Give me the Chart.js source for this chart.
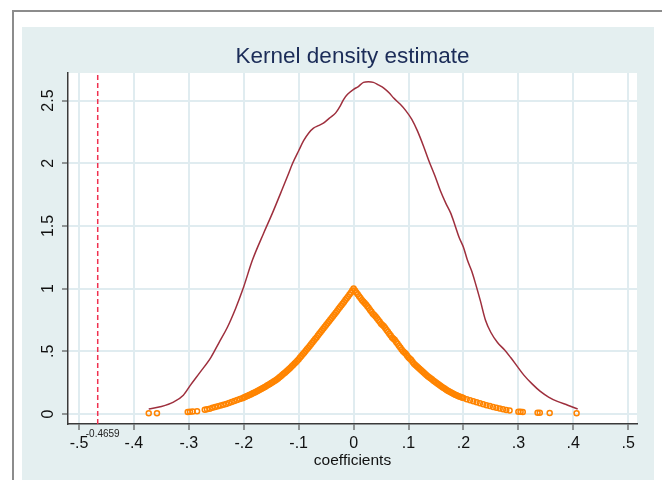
<!DOCTYPE html>
<html>
<head>
<meta charset="utf-8">
<script src="https://cdn.jsdelivr.net/npm/chart.js@4.4.1/dist/chart.umd.min.js"></script>
<style>
  body { margin: 0; background: #fff; overflow: hidden; }
  canvas { display: block; }
</style>
</head>
<body>
<canvas id="kdens" width="662" height="480"></canvas>
<script>
// --- data ---
// kernel density curve (red line)
const densX = [-0.373, -0.35, -0.328, -0.31, -0.297, -0.28, -0.26, -0.245, -0.23, -0.215, -0.202, -0.184,
  -0.164, -0.148, -0.133, -0.12, -0.111, -0.1, -0.091, -0.082, -0.073, -0.064, -0.055, -0.044, -0.033,
  -0.024, -0.018, -0.011, 0, 0.008, 0.018, 0.027, 0.036, 0.045, 0.055, 0.065, 0.073, 0.085, 0.095, 0.106,
  0.116, 0.127, 0.137, 0.148, 0.158, 0.168, 0.177, 0.185, 0.192, 0.2, 0.207, 0.215, 0.222, 0.231, 0.24,
  0.25, 0.262, 0.275, 0.286, 0.298, 0.31, 0.325, 0.34, 0.355, 0.371, 0.39, 0.408];
const densY = [0.04, 0.06, 0.095, 0.15, 0.23, 0.33, 0.45, 0.57, 0.69, 0.84, 0.99, 1.23,
  1.44, 1.6, 1.76, 1.9, 2.0, 2.1, 2.18, 2.24, 2.28, 2.3, 2.32, 2.36, 2.4,
  2.46, 2.51, 2.55, 2.59, 2.61, 2.645, 2.65, 2.645, 2.625, 2.6, 2.56, 2.52, 2.47, 2.42, 2.35,
  2.26, 2.14, 2.02, 1.9, 1.78, 1.68, 1.6, 1.5, 1.41, 1.33, 1.23, 1.14, 1.04, 0.9, 0.75,
  0.65, 0.57, 0.51, 0.45, 0.38, 0.31, 0.24, 0.18, 0.135, 0.1, 0.07, 0.04];

// kernel weights (orange hollow circles): left tail, dense centre band, right tail
const weightX = [
  -0.373, -0.358, -0.302, -0.298, -0.293, -0.285, -0.271, -0.267, -0.262, -0.257, -0.252,
  -0.247, -0.242, -0.237, -0.232, -0.227, -0.222, -0.217, -0.212, -0.207, -0.2025,
  -0.2, -0.1975, -0.195, -0.1925, -0.19, -0.1875, -0.185, -0.1825, -0.18, -0.1775, -0.175, -0.1725,
  -0.17, -0.1675, -0.165, -0.1625, -0.16, -0.1575, -0.155, -0.1525, -0.15, -0.1475, -0.145, -0.1425,
  -0.14, -0.1375, -0.135, -0.1325, -0.13, -0.1275, -0.125, -0.1225, -0.12, -0.1175, -0.115, -0.1125,
  -0.11, -0.1075, -0.105, -0.1025, -0.1, -0.0975, -0.095, -0.0925, -0.09, -0.0875, -0.085, -0.0825,
  -0.08, -0.0775, -0.075, -0.0725, -0.07, -0.0675, -0.065, -0.0625, -0.06, -0.0575, -0.055, -0.0525,
  -0.05, -0.0475, -0.045, -0.0425, -0.04, -0.0375, -0.035, -0.0325, -0.03, -0.0275, -0.025, -0.0225,
  -0.02, -0.0175, -0.015, -0.0125, -0.01, -0.0075, -0.005, -0.0025, 0,
  0.0025, 0.005, 0.0075, 0.01, 0.0125, 0.015, 0.0175, 0.02, 0.0225, 0.025, 0.0275, 0.03,
  0.0325, 0.035, 0.0375, 0.04, 0.0425, 0.045, 0.0475, 0.05, 0.0525, 0.055, 0.0575, 0.06,
  0.0625, 0.065, 0.0675, 0.07, 0.0725, 0.075, 0.0775, 0.08, 0.0825, 0.085, 0.0875, 0.09,
  0.0925, 0.095, 0.0975, 0.1, 0.1025, 0.105, 0.1075, 0.11, 0.1125, 0.115, 0.1175, 0.12,
  0.1225, 0.125, 0.1275, 0.13, 0.1325, 0.135, 0.1375, 0.14, 0.1425, 0.145, 0.1475, 0.15,
  0.1525, 0.155, 0.1575, 0.16, 0.1625, 0.165, 0.1675, 0.17, 0.1725, 0.175, 0.1775, 0.18,
  0.1825, 0.185, 0.1875, 0.19, 0.1925, 0.195, 0.1975, 0.2,
  0.206, 0.212, 0.218, 0.224, 0.23, 0.236, 0.242, 0.248, 0.254, 0.26, 0.266, 0.272, 0.278, 0.284,
  0.3, 0.304, 0.308, 0.335, 0.339, 0.357, 0.406];
const weightY = [
  0.005, 0.006, 0.016, 0.017, 0.019, 0.022, 0.033, 0.037, 0.042, 0.05, 0.056,
  0.062, 0.068, 0.074, 0.08, 0.087, 0.095, 0.103, 0.111, 0.119, 0.126,
  0.131, 0.136, 0.141, 0.146, 0.151, 0.156, 0.161, 0.167, 0.172, 0.178, 0.184, 0.189,
  0.195, 0.201, 0.208, 0.214, 0.22, 0.227, 0.233, 0.24, 0.247, 0.254, 0.261, 0.268,
  0.275, 0.283, 0.292, 0.301, 0.31, 0.32, 0.329, 0.339, 0.349, 0.359, 0.369, 0.38,
  0.391, 0.402, 0.413, 0.425, 0.437, 0.45, 0.463, 0.476, 0.489, 0.502, 0.516, 0.529,
  0.543, 0.556, 0.57, 0.584, 0.598, 0.611, 0.625, 0.639, 0.653, 0.667, 0.681, 0.695,
  0.709, 0.723, 0.737, 0.751, 0.765, 0.78, 0.794, 0.808, 0.822, 0.837, 0.851, 0.865,
  0.88, 0.894, 0.909, 0.923, 0.938, 0.953, 0.968, 0.984, 1.0,
  0.985, 0.97, 0.955, 0.94, 0.925, 0.91, 0.898, 0.886, 0.873, 0.86, 0.845, 0.83,
  0.815, 0.8, 0.79, 0.778, 0.764, 0.75, 0.735, 0.72, 0.71, 0.7, 0.685, 0.67,
  0.655, 0.64, 0.625, 0.61, 0.6, 0.59, 0.575, 0.56, 0.545, 0.53, 0.515, 0.5,
  0.49, 0.48, 0.465, 0.45, 0.44, 0.43, 0.415, 0.4, 0.39, 0.38, 0.37, 0.36,
  0.35, 0.34, 0.33, 0.32, 0.31, 0.3, 0.292, 0.285, 0.276, 0.268, 0.26, 0.252,
  0.244, 0.236, 0.228, 0.22, 0.212, 0.205, 0.197, 0.19, 0.183, 0.177, 0.171, 0.165,
  0.16, 0.154, 0.149, 0.144, 0.14, 0.135, 0.131, 0.127,
  0.118, 0.11, 0.102, 0.094, 0.086, 0.078, 0.07, 0.063, 0.056, 0.049, 0.043, 0.037, 0.032, 0.027,
  0.018, 0.017, 0.016, 0.01, 0.01, 0.008, 0.005];

// reference line
const refLine = -0.4659;
const refLabel = '-0.4659';

// axes
const xMin = -0.52, xMax = 0.516;
const yMin = -0.08, yMax = 2.72;
const xTicks = [-0.5, -0.4, -0.3, -0.2, -0.1, 0, 0.1, 0.2, 0.3, 0.4, 0.5];
const xTickLabels = ['-.5', '-.4', '-.3', '-.2', '-.1', '0', '.1', '.2', '.3', '.4', '.5'];
const yTicks = [0, 0.5, 1, 1.5, 2, 2.5];
const yTickLabels = ['0', '.5', '1', '1.5', '2', '2.5'];

const chartTitle = 'Kernel density estimate';
const xTitle = 'coefficients';

// --- drawing ---
Chart.defaults.font.family = "'Liberation Sans', Arial, sans-serif";

const gridColor = '#e0ecf0';
const axisColor = '#3a3a3a';

// panel background, outer frame, white plot region
const backdrop = {
  id: 'backdrop',
  beforeDraw(chart) {
    const c = chart.ctx;
    const a = chart.chartArea;
    c.save();
    c.fillStyle = '#e4eff0';
    c.fillRect(22, 27, 632, 460);
    c.fillStyle = '#8c8c8c';
    c.fillRect(12, 10, 2, 470);   // left frame edge
    c.fillRect(12, 10, 650, 2);   // top frame edge
    c.fillStyle = '#ffffff';
    c.fillRect(a.left, a.top, a.right - a.left, a.bottom - a.top);
    c.restore();
  }
};

// small text under the axis for the reference line
const refText = {
  id: 'refText',
  afterDraw(chart) {
    const c = chart.ctx;
    const px = chart.scales.x.getPixelForValue(refLine);
    c.save();
    c.font = "10px 'Liberation Sans', Arial, sans-serif";
    c.fillStyle = '#222';
    c.textAlign = 'center';
    c.textBaseline = 'middle';
    c.fillText(refLabel, px + 5, chart.chartArea.bottom + 10);
    c.restore();
  }
};

new Chart(document.getElementById('kdens').getContext('2d'), {
  type: 'scatter',
  data: {
    datasets: [
      {
        label: 'density',
        data: densX.map((x, i) => ({ x: x, y: densY[i] })),
        showLine: true,
        borderColor: '#9e2f3d',
        borderWidth: 1.5,
        pointRadius: 0,
        cubicInterpolationMode: 'monotone',
        fill: false
      },
      {
        label: 'weights',
        data: weightX.map((x, i) => ({ x: x, y: weightY[i] })),
        borderColor: '#ff8400',
        backgroundColor: 'rgba(255,255,255,0)',
        borderWidth: 1.5,
        pointRadius: 2.5
      },
      {
        label: 'xline',
        data: [{ x: refLine, y: yMin }, { x: refLine, y: yMax }],
        showLine: true,
        borderColor: '#f0304f',
        borderWidth: 1.5,
        borderDash: [5, 3],
        pointRadius: 0
      }
    ]
  },
  options: {
    responsive: false,
    animation: false,
    devicePixelRatio: 1,
    layout: { padding: { left: 22, right: 25, top: 36, bottom: 0 } },
    plugins: {
      legend: { display: false },
      tooltip: { enabled: false },
      title: {
        display: true,
        text: chartTitle,
        fullSize: false,
        color: '#1b2c58',
        font: { size: 22.5, weight: 'normal' },
        padding: { top: 7, bottom: 3 }
      }
    },
    scales: {
      x: {
        type: 'linear',
        min: xMin,
        max: xMax,
        afterBuildTicks: s => { s.ticks = xTicks.map(v => ({ value: v })); },
        afterFit: s => { s.height = 56; },
        ticks: {
          callback: (v, i) => xTickLabels[i],
          font: { size: 16 },
          color: '#111',
          padding: 4,
          autoSkip: false,
          maxRotation: 0
        },
        grid: { color: gridColor, lineWidth: 2, tickLength: 6, tickColor: axisColor, tickWidth: 1 },
        border: { color: axisColor, width: 1.5 },
        title: {
          display: true,
          text: xTitle,
          color: '#111',
          font: { size: 15.5 },
          padding: { top: 0, bottom: 10 }
        }
      },
      y: {
        type: 'linear',
        min: yMin,
        max: yMax,
        afterBuildTicks: s => { s.ticks = yTicks.map(v => ({ value: v })); },
        afterFit: s => { s.width = 46; },
        ticks: {
          callback: (v, i) => yTickLabels[i],
          font: { size: 16 },
          color: '#111',
          padding: 2,
          autoSkip: false,
          minRotation: 90,
          maxRotation: 90,
          crossAlign: 'center'
        },
        grid: { color: gridColor, lineWidth: 2, tickLength: 6, tickColor: axisColor, tickWidth: 1 },
        border: { color: axisColor, width: 1.5 }
      }
    }
  },
  plugins: [backdrop, refText]
});
</script>
</body>
</html>
